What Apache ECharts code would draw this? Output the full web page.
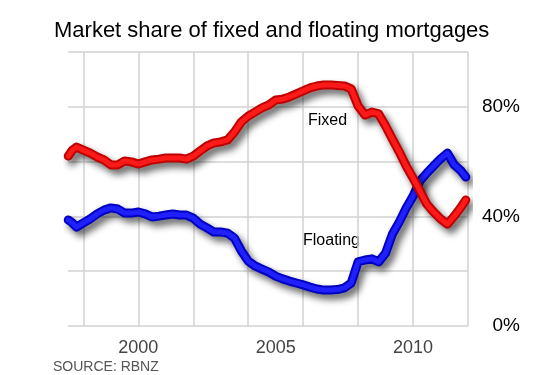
<!DOCTYPE html>
<html><head><meta charset="utf-8">
<script src="https://cdn.jsdelivr.net/npm/echarts@6/dist/echarts.min.js"></script>
<style>html,body{margin:0;padding:0;background:#fff}#c{width:550px;height:375px}</style>
</head><body><div id="c"></div>
<script>
const years = [1997.45,1997.6,1997.75,1998,1998.25,1998.5,1998.75,1999,1999.25,1999.5,1999.75,2000,2000.25,2000.5,2000.75,2001,2001.25,2001.5,2001.75,2002,2002.25,2002.5,2002.75,2003,2003.25,2003.5,2003.75,2004,2004.25,2004.5,2004.75,2005,2005.25,2005.5,2005.75,2006,2006.25,2006.5,2006.75,2007,2007.25,2007.5,2007.75,2008,2008.25,2008.5,2008.75,2009,2009.25,2009.5,2009.75,2010,2010.25,2010.5,2010.75,2011,2011.25,2011.5,2011.75,2011.92];
const fixed = [62.0,64.2,65.3, 64.2,63.1,61.7,60.6, 58.8,58.8,60.2,59.9, 59.1,59.9,60.6,60.9, 61.3,61.3,61.3,60.9, 62.0,63.9,65.7,66.8, 67.2,67.9,70.8,74.5, 76.6,78.1,79.6,80.7, 82.5,82.8,83.6,84.7, 85.8,86.9,87.6,88.0, 88.0,87.8,87.6,86.5, 80.3,77.0,78.1,77.4, 73.0,68.2,63.5,58.4, 54.0,49.3,44.5,41.6, 39.1,37.2,40.1,43.4, 46.0];
const floating = [38.7,37.6,36.1, 37.6,39.1,40.9,42.3, 43.1,42.7,41.2,41.2, 41.6,40.9,39.8,40.1, 40.5,40.9,40.5,40.5, 39.4,37.2,35.8,34.3, 34.3,33.9,32.1,27.4, 23.7,21.9,20.8,19.7, 18.2,17.2,16.4,15.7, 15.0,14.2,13.5,13.1, 13.1,13.3,13.9,15.7, 23.4,24.1,24.5,23.4, 26.6,33.6,38.0,43.1, 47.4,52.9,55.8,58.4, 61.0,63.1,58.8,56.6, 54.4];
const yearLabels = [2000, 2005, 2010];
const gridYears = [1998, 2000, 2002, 2004, 2006, 2008, 2010, 2012];
const pctLabels = [0, 40, 80];

const font = "'Liberation Sans', Arial, sans-serif";
const fixedData = years.map((y, i) => [y, fixed[i]]);
const floatData = years.map((y, i) => [y, floating[i]]);

function baseLine(name, data, color) {
  return { name, type: 'line', data, symbol: 'none', silent: true, animation: false, clip: false,
    lineStyle: { color, width: 9, cap: 'round', join: 'round',
      shadowBlur: 7, shadowColor: 'rgba(0,0,0,0.6)', shadowOffsetX: 4, shadowOffsetY: 5 } };
}
function topLine(name, data, color) {
  return { name, type: 'line', data, symbol: 'none', silent: true, animation: false, clip: false,
    lineStyle: { color, width: 5, cap: 'round', join: 'round' } };
}

const chart = echarts.init(document.getElementById('c'));
chart.setOption({
  backgroundColor: '#fff',
  animation: false,
  title: { text: 'Market share of fixed and floating mortgages', left: 49, top: 15,
    textStyle: { fontFamily: font, fontSize: 22, fontWeight: 'normal', color: '#000' } },
  grid: { left: 68, right: 82, top: 52, bottom: 49 },
  xAxis: { type: 'value', min: 1997.44, max: 2012,
    axisLine: { show: false },
    axisTick: { show: false, customValues: gridYears },
    splitLine: { show: true, lineStyle: { color: '#d2d2d2', width: 1.5 } },
    axisLabel: { customValues: yearLabels, formatter: v => String(v),
      fontFamily: font, fontSize: 18, color: '#444', margin: 13 } },
  yAxis: { type: 'value', position: 'right', min: 0, max: 100, interval: 20,
    axisLine: { show: false }, axisTick: { show: false },
    splitLine: { show: true, lineStyle: { color: '#d2d2d2', width: 1.5 } },
    axisLabel: { formatter: v => pctLabels.includes(v) ? v + '%' : '', align: 'right', margin: 52,
      fontFamily: font, fontSize: 19, color: '#000' } },
  graphic: [
    { type: 'text', left: 308, top: 113, style: { text: 'Fixed', font: '16px ' + font, fill: '#000' } },
    { type: 'text', left: 303, top: 233, style: { text: 'Floating', font: '16px ' + font, fill: '#000' } },
    { type: 'text', left: 53, top: 360, style: { text: 'SOURCE: RBNZ', font: '14px ' + font, fill: '#555' } }
  ],
  series: [
    baseLine('Floating', floatData, '#0000c0'),
    topLine('Floating', floatData, '#2020ff'),
    baseLine('Fixed', fixedData, '#c00000'),
    topLine('Fixed', fixedData, '#ff1a1a')
  ]
});
</script></body></html>
